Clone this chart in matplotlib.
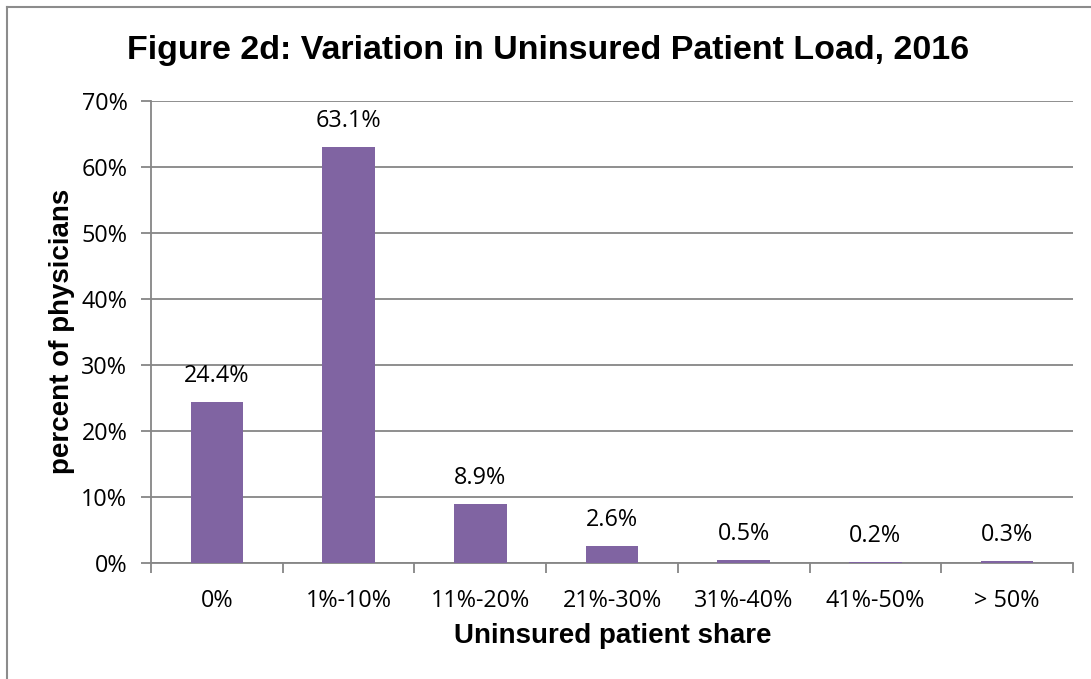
import matplotlib.pyplot as plt
from matplotlib.lines import Line2D

categories = ['0%', '1%-10%', '11%-20%', '21%-30%', '31%-40%', '41%-50%', '> 50%']
shares = [24.4, 63.1, 8.9, 2.6, 0.5, 0.2, 0.3]
y_ticks = [0, 10, 20, 30, 40, 50, 60, 70]

BAR = '#8064A2'
GRID = '#868686'
LABEL_FONT = 'Open Sans'
HEAD_FONT = 'Liberation Sans'

fig = plt.figure(figsize=(10.91, 6.79), dpi=100)
ax = fig.add_axes([151 / 1091, 1 - 563 / 679, 922 / 1091, 462 / 679])

x = list(range(len(categories)))
ax.bar(x, shares, width=0.4, color=BAR, zorder=3)

for xi, v in zip(x, shares):
    ax.annotate(f'{v:.1f}%', (xi, v), xytext=(0, 10), textcoords='offset points',
                ha='center', va='bottom', fontsize=16.8, family=LABEL_FONT)

ax.set_xlim(-0.5, len(categories) - 0.5)
ax.set_ylim(0, 70)
ax.set_yticks(y_ticks)
ax.set_yticklabels([f'{t}%' for t in y_ticks], family=LABEL_FONT, fontsize=16.8)
ax.yaxis.grid(True, color=GRID, linewidth=1.3, zorder=0)

ax.set_xticks(x)
ax.set_xticklabels(categories, family=LABEL_FONT, fontsize=16.8)
ax.set_xticks([i - 0.5 for i in range(len(categories) + 1)], minor=True)
ax.tick_params(axis='x', which='major', length=0, pad=19)
ax.tick_params(axis='x', which='minor', length=7, width=1.3, color=GRID, direction='out')
ax.tick_params(axis='y', length=7, width=1.3, color=GRID, direction='out', pad=10)

for side in ['top', 'right']:
    ax.spines[side].set_visible(False)
for side in ['left', 'bottom']:
    ax.spines[side].set_color(GRID)
    ax.spines[side].set_linewidth(1.3)

fig.text(548 / 1091, 1 - 50 / 679, 'Figure 2d: Variation in Uninsured Patient Load, 2016',
         ha='center', va='center', fontsize=24.5, fontweight='bold', family=HEAD_FONT)
fig.text(613 / 1091, 1 - 636 / 679, 'Uninsured patient share',
         ha='center', va='center', fontsize=20, fontweight='bold', family=HEAD_FONT)
fig.text(62 / 1091, 1 - 331 / 679, 'percent of physicians', rotation=90,
         ha='center', va='center', fontsize=20, fontweight='bold', family=HEAD_FONT)

# chart frame (only left/top edges fall inside the picture)
fig.add_artist(Line2D([7 / 1091, 7 / 1091], [0, 1 - 7 / 679], transform=fig.transFigure,
                      color='#8C8C8C', linewidth=1.5))
fig.add_artist(Line2D([7 / 1091, 1], [1 - 7 / 679, 1 - 7 / 679], transform=fig.transFigure,
                      color='#8C8C8C', linewidth=1.5))

fig.savefig('out.png', dpi=100)
